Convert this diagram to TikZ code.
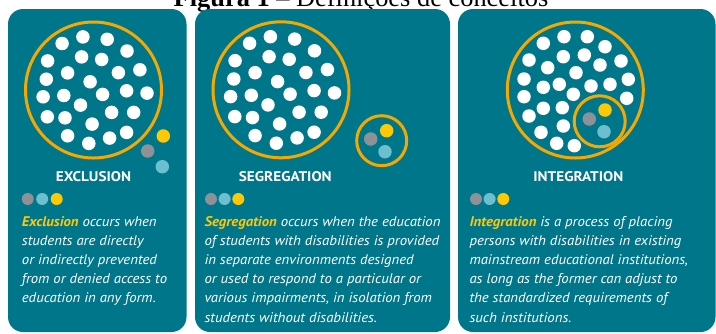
\documentclass[tikz,border=0pt]{standalone}
\usepackage{fontspec}
\setmainfont{PT Sans}
\newfontfamily\bodyfont{PT Sans}[FakeStretch=1.06]
\newfontfamily\headfont{PT Sans}[FakeStretch=1.09]
\newfontfamily\titlefont{Liberation Serif}

\definecolor{panelteal}{HTML}{00768A}
\definecolor{ringorange}{HTML}{F5A800}
\definecolor{dotyellow}{HTML}{FFC805}
\definecolor{dotgray}{HTML}{8E9297}
\definecolor{dotblue}{HTML}{6CBFCF}

\tikzset{
  panelbox/.style={fill=panelteal, draw=none, rounded corners=15bp},
  ring/.style={circle, draw=ringorange, line width=3bp, inner sep=0pt, minimum size=#1},
  wdot/.style={circle, fill=white, inner sep=0pt, minimum size=13.5bp},
  cdot/.style={circle, fill=#1, inner sep=0pt, minimum size=13.5bp},
  keydot/.style={circle, fill=#1, inner sep=0pt, minimum size=12bp},
  heading/.style={text=white, font=\headfont\bfseries\fontsize{14}{15}\selectfont, inner sep=0pt, anchor=base},
  bodyline/.style={text=white, font=\bodyfont\itshape\fontsize{14}{16}\selectfont, inner sep=0pt, anchor=base west},
  titletext/.style={font=\titlefont\fontsize{26.5}{27}\selectfont, inner sep=0pt, anchor=base}
}

% crowd of white dots, offsets from the centre of the large ring
\def\crowd{-31.4/-46.5, -10.6/-53.1, 13.7/-50.7, 33.5/-39, -45.9/-29.1,
  -11.9/-33.1, 8.2/-30.5, -25.9/-17.1, 24.9/-17.3, 46.4/-20.2, -47.2/-10.8,
  -3.4/-8.2, -50.4/6.8, -29.7/5.5, 9.1/4.4, 33.1/0.8, 53.5/3.1, -13/15.1,
  -46.2/26.8, -28.5/27.8, 18.1/22.4, 40.2/22.4, -1.4/34.1, -25.9/45.8,
  -4.7/53.4, 16.1/48.1, 33.1/42.4}

\begin{document}
\begin{tikzpicture}[x=1bp, y=-1bp]
\useasboundingbox (0,0) rectangle (716,333);
\clip (0,0) rectangle (716,333);

% caption above the panels
\node[titletext] (title) at (361,6.5) {\textbf{Figura 1} – Definições de conceitos};

% the three panels
\path[panelbox] (8,9) rectangle (186.5,332);
\path[panelbox] (195,9) rectangle (450,332);
\path[panelbox] (458,9) rectangle (715.5,332);

% ---------- Exclusion ----------
\node[ring=136bp] (exring) at (93.5,90) {};
\foreach \dx/\dy [count=\k] in \crowd
  \node[wdot] (ex-\k) at (93.5+\dx, 90+\dy) {};
\node[cdot=dotyellow] (ex-y) at (163.3,136) {};
\node[cdot=dotgray]   (ex-g) at (147.7,151) {};
\node[cdot=dotblue]   (ex-b) at (162.3,166.7) {};
\node[heading] (exhead) at (93.5,181) {EXCLUSION};
\node[keydot=dotgray]   (exk1) at (27.7,199) {};
\node[keydot=dotblue]   (exk2) at (42.2,199) {};
\node[keydot=dotyellow] (exk3) at (56.7,199) {};
\node[bodyline] (ex1) at (21.7,226) {\textcolor{dotyellow}{\bfseries Exclusion} occurs when};
\node[bodyline] (ex2) at (21.7,245.2) {students are directly};
\node[bodyline] (ex3) at (21.7,264.4) {or indirectly prevented};
\node[bodyline] (ex4) at (21.7,283.6) {from or denied access to};
\node[bodyline] (ex5) at (21.7,302.8) {education in any form.};

% ---------- Segregation ----------
\node[ring=136bp] (sgring) at (281,89.8) {};
\foreach \dx/\dy [count=\k] in \crowd
  \node[wdot] (sg-\k) at (281+\dx, 89.8+\dy) {};
\node[ring=50bp] (sgsmall) at (381.7,140.7) {};
\node[cdot=dotyellow] (sg-y) at (386.7,130.7) {};
\node[cdot=dotgray]   (sg-g) at (370.7,139) {};
\node[cdot=dotblue]   (sg-b) at (385,151.7) {};
\node[heading] (sghead) at (285.3,181) {SEGREGATION};
\node[keydot=dotgray]   (sgk1) at (211,199) {};
\node[keydot=dotblue]   (sgk2) at (224.6,199) {};
\node[keydot=dotyellow] (sgk3) at (238.3,199) {};
\node[bodyline] (sg1) at (204.3,226) {\textcolor{dotyellow}{\bfseries Segregation} occurs when the education};
\node[bodyline] (sg2) at (204.3,245.2) {of students with disabilities is provided};
\node[bodyline] (sg3) at (204.3,264.4) {in separate environments designed};
\node[bodyline] (sg4) at (204.3,283.6) {or used to respond to a particular or};
\node[bodyline] (sg5) at (204.3,302.8) {various impairments, in isolation from};
\node[bodyline] (sg6) at (204.3,322) {students without disabilities.};

% ---------- Integration ----------
\node[ring=136bp] (inring) at (575.3,90) {};
\foreach \px/\py [count=\k] in {543.3/43.3, 564/36.7, 587.3/36.7, 605/46.7,
  529/60, 563.3/56.7, 584.3/55, 547.7/67.7, 600/65, 621/61, 524/79,
  576/72.7, 628.3/79.3, 543.3/87.3, 559.3/84.3, 591/86, 610/84.3, 524/96.7,
  573.3/94.3, 626.7/98.3, 543.3/108.3, 562.3/107.7, 529/116, 563.3/126,
  541/132.3, 556.7/143.3, 574.3/145.7}
  \node[wdot] (in-\k) at (\px,\py) {};
\node[ring=51bp] (insmall) at (599.7,121.3) {};
\node[cdot=dotyellow] (in-y) at (605,110) {};
\node[cdot=dotgray]   (in-g) at (589.3,119) {};
\node[cdot=dotblue]   (in-b) at (604,131.7) {};
\node[heading] (inhead) at (578.3,181) {INTEGRATION};
\node[keydot=dotgray]   (ink1) at (476,199) {};
\node[keydot=dotblue]   (ink2) at (489.6,199) {};
\node[keydot=dotyellow] (ink3) at (503.3,199) {};
\node[bodyline] (in1) at (469.3,226) {\textcolor{dotyellow}{\bfseries Integration} is a process of placing};
\node[bodyline] (in2) at (469.3,245.2) {persons with disabilities in existing};
\node[bodyline] (in3) at (469.3,264.4) {mainstream educational institutions,};
\node[bodyline] (in4) at (469.3,283.6) {as long as the former can adjust to};
\node[bodyline] (in5) at (469.3,302.8) {the standardized requirements of};
\node[bodyline] (in6) at (469.3,322) {such institutions.};
\end{tikzpicture}
\end{document}
